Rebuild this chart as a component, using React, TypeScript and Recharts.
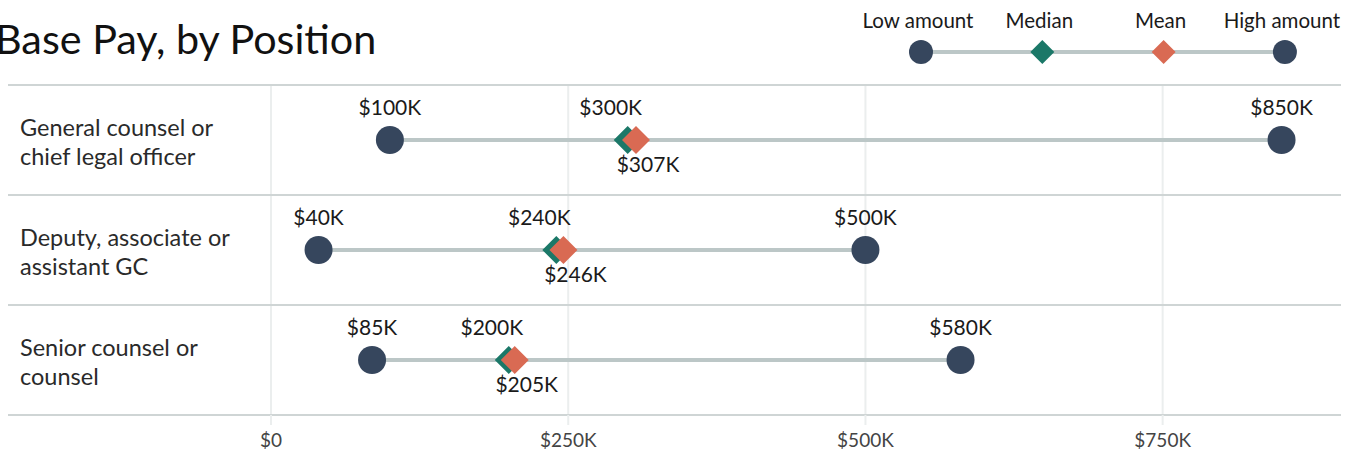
import React from 'react';
import {
    ScatterChart,
    Scatter,
    XAxis,
    YAxis,
    CartesianGrid,
    ReferenceLine
} from 'recharts';

// Data
const positions = [
    ['General counsel or', 'chief legal officer'],
    ['Deputy, associate or', 'assistant GC'],
    ['Senior counsel or', 'counsel']
];
const lowPay = [100000, 40000, 85000];
const medianPay = [300000, 240000, 200000];
const meanPay = [307000, 246000, 205000];
const highPay = [850000, 500000, 580000];
const xTicks = [0, 250000, 500000, 750000];

const NAVY = '#36465d';
const TEAL = '#1b7868';
const CORAL = '#d96a53';
const CONNECTOR = '#bcc7c7';
const RULE = '#cfd5d5';
const GRID = '#ebeeee';
const FONT = 'Lato, "Open Sans", sans-serif';

const fmtK = (v: number) => (v === 0 ? '$0' : `$${Math.round(v / 1000)}K`);

const toPoints = (vals: number[]) => vals.map((x, i) => ({ x, y: i }));

const dotShape = (labelDx: number, labelDy: number) => (props: any) => {
    const { cx, cy, payload } = props;
    return (
        <g>
            <circle cx={cx} cy={cy} r={14} fill={NAVY} />
            <text x={cx + labelDx} y={cy + labelDy} textAnchor="middle" fontSize={21} fill="#1a1a1a" fontFamily={FONT}>
                {fmtK(payload.x)}
            </text>
        </g>
    );
};

const diamondShape = (color: string, labelDx: number, labelDy: number) => (props: any) => {
    const { cx, cy, payload } = props;
    const h = 14;
    return (
        <g>
            <path d={`M${cx},${cy - h}L${cx + h},${cy}L${cx},${cy + h}L${cx - h},${cy}Z`} fill={color} />
            <text x={cx + labelDx} y={cy + labelDy} textAnchor="middle" fontSize={21} fill="#1a1a1a" fontFamily={FONT}>
                {fmtK(payload.x)}
            </text>
        </g>
    );
};

const RowTick = (props: any) => {
    const { y, payload } = props;
    const v = payload.value;
    if (!Number.isInteger(v)) {
        return <line x1={8} x2={256} y1={y} y2={y} stroke={RULE} strokeWidth={2} />;
    }
    const lines = positions[v];
    return (
        <text x={20} y={y - 4} fontSize={23.5} fill="#2a2a2a" fontFamily={FONT}>
            <tspan x={20}>{lines[0]}</tspan>
            <tspan x={20} dy={29}>{lines[1]}</tspan>
        </text>
    );
};

const legendItems = [
    { label: 'Low amount', kind: 'circle', color: NAVY },
    { label: 'Median', kind: 'diamond', color: TEAL },
    { label: 'Mean', kind: 'diamond', color: CORAL },
    { label: 'High amount', kind: 'circle', color: NAVY }
];

const ChartLegend = () => {
    const step = 121.3;
    const x0 = 79;
    return (
        <svg width={510} height={70} style={{ position: 'absolute', left: 842, top: 0, overflow: 'visible' }}>
            <line x1={x0} x2={x0 + step * 3} y1={52} y2={52} stroke={CONNECTOR} strokeWidth={4} />
            {legendItems.map((it, i) => {
                const cx = x0 + step * i;
                return (
                    <g key={it.label}>
                        <text x={cx - 3} y={28} textAnchor="middle" fontSize={20.5} fill="#1a1a1a" fontFamily={FONT}>
                            {it.label}
                        </text>
                        {it.kind === 'circle' ? (
                            <circle cx={cx} cy={52} r={12} fill={it.color} />
                        ) : (
                            <path d={`M${cx},40L${cx + 12},52L${cx},64L${cx - 12},52Z`} fill={it.color} />
                        )}
                    </g>
                );
            })}
        </svg>
    );
};

export default function App() {
    return (
        <div style={{ position: 'relative', width: 1352, height: 451, overflow: 'hidden', background: '#fff' }}>
            <style>{'body{margin:0}'}</style>
            <div
                style={{
                    position: 'absolute',
                    left: -5,
                    top: 18,
                    fontSize: 41.3,
                    lineHeight: 1,
                    fontFamily: FONT,
                    color: '#111'
                }}
            >
                Base Pay, by Position
            </div>
            <ChartLegend />
            <ScatterChart width={1352} height={451} margin={{ top: 85, right: 11, bottom: 0, left: 0 }}>
                <CartesianGrid horizontal={false} verticalValues={xTicks} stroke={GRID} strokeWidth={2} />
                <XAxis
                    type="number"
                    dataKey="x"
                    domain={[0, 900000]}
                    ticks={xTicks}
                    tickFormatter={fmtK}
                    padding={{ left: 15 }}
                    height={36}
                    axisLine={{ stroke: RULE, strokeWidth: 2 }}
                    tickLine={{ stroke: GRID, strokeWidth: 2 }}
                    tickSize={10}
                    tickMargin={9}
                    tick={{ fontSize: 19, fill: '#444', fontFamily: FONT }}
                />
                <YAxis
                    type="number"
                    dataKey="y"
                    domain={[-0.5, 2.5]}
                    ticks={[-0.5, 0, 0.5, 1, 1.5, 2, 2.5]}
                    reversed
                    width={256}
                    axisLine={false}
                    tickLine={false}
                    tick={<RowTick />}
                    interval={0}
                />
                {[-0.5, 0.5, 1.5].map(v => (
                    <ReferenceLine key={v} y={v} stroke={RULE} strokeWidth={2} />
                ))}
                {positions.map((_, i) => (
                    <Scatter
                        key={`conn-${i}`}
                        data={[{ x: lowPay[i], y: i }, { x: highPay[i], y: i }]}
                        line={{ stroke: CONNECTOR, strokeWidth: 4 }}
                        shape={() => <g />}
                        legendType="none"
                        isAnimationActive={false}
                    />
                ))}
                <Scatter data={toPoints(lowPay)} shape={dotShape(0, -25)} isAnimationActive={false} />
                <Scatter data={toPoints(highPay)} shape={dotShape(0, -25)} isAnimationActive={false} />
                <Scatter data={toPoints(medianPay)} shape={diamondShape(TEAL, -17, -25)} isAnimationActive={false} />
                <Scatter data={toPoints(meanPay)} shape={diamondShape(CORAL, 12, 32)} isAnimationActive={false} />
            </ScatterChart>
        </div>
    );
}
